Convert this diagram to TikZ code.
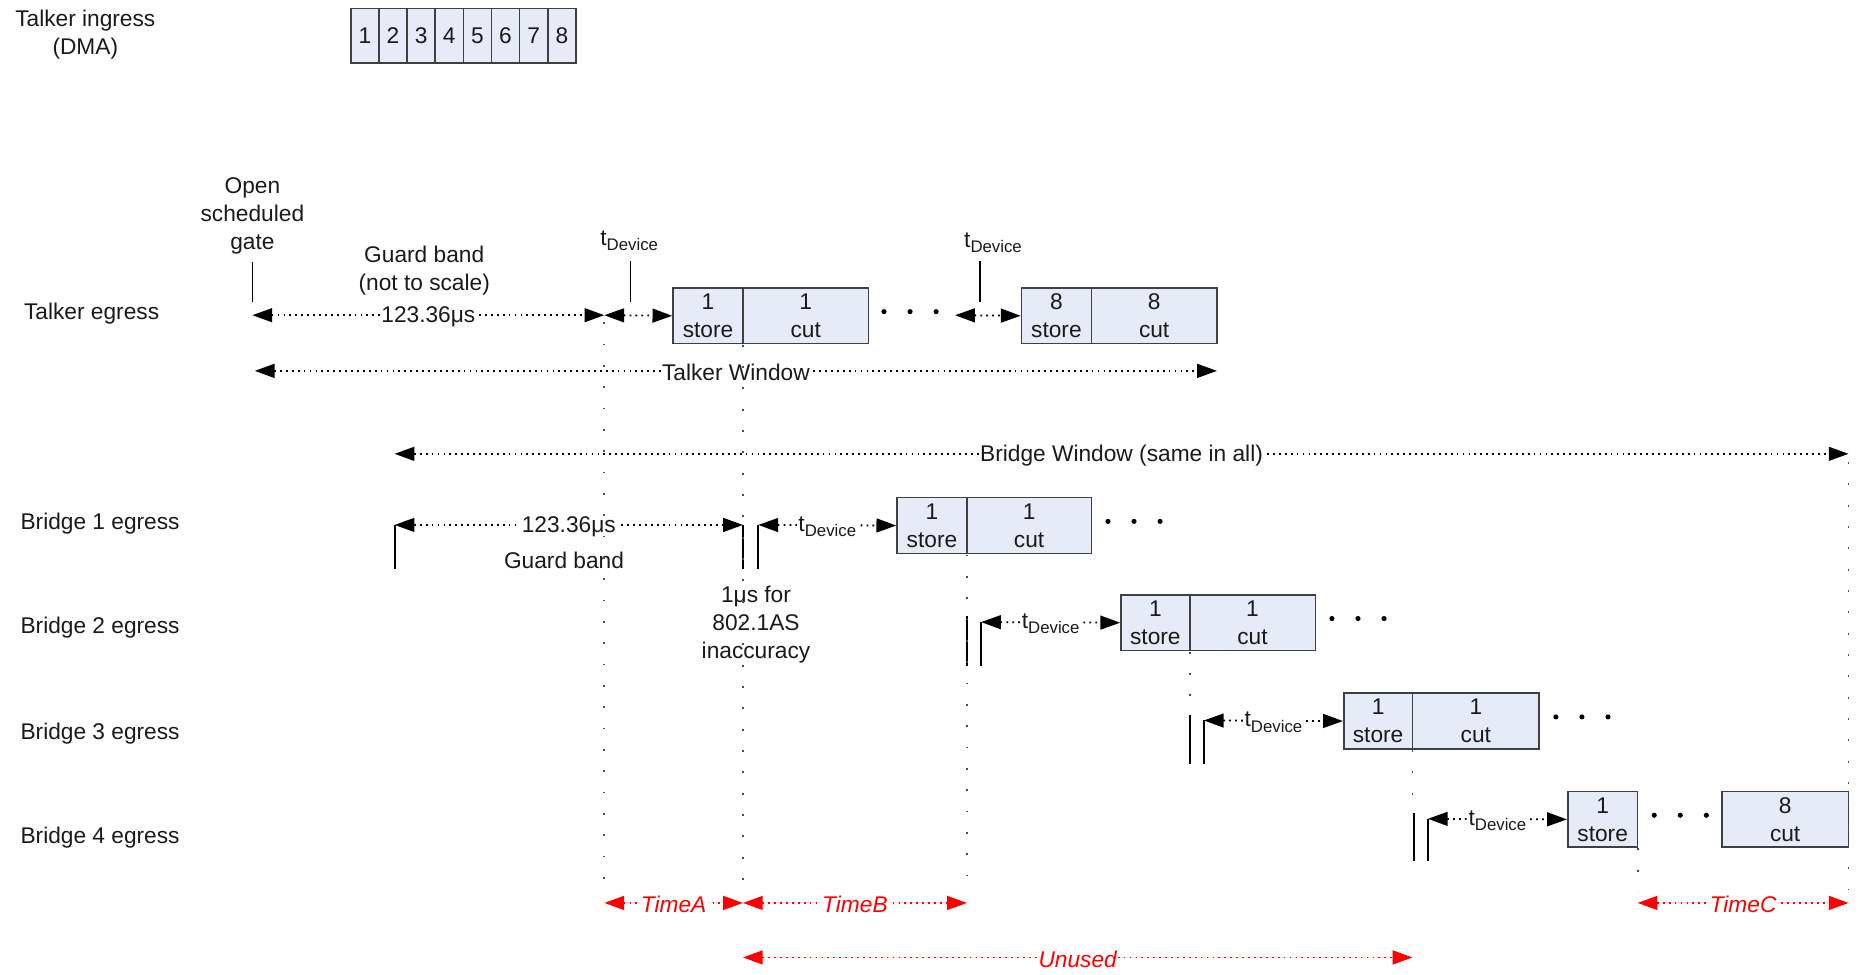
\documentclass[tikz,border=0pt]{standalone}
\usepackage{fontspec}
\setmainfont{Liberation Sans}
\usetikzlibrary{arrows.meta}
\definecolor{boxfill}{HTML}{E6ECF7}
\definecolor{boxline}{HTML}{404040}
\definecolor{tred}{HTML}{FF0000}
\definecolor{ink}{HTML}{1A1A1A}
\newcommand\fs{\fontsize{11.5}{14.2}\selectfont}
\newcommand\tdev{t\raisebox{-0.45ex}{\fontsize{8.5}{10}\selectfont Device}}
\begin{document}
\begin{tikzpicture}[x=0.6pt,y=-0.6pt,font=\fs,
  txt/.style={text=ink,yshift=-1.2pt},
  pkt/.style={draw=boxline,fill=boxfill,line width=0.8pt,inner sep=0pt,align=center,minimum height=28.2pt,text=ink},
  dim/.style={{Triangle[length=10pt,width=7pt]}-{Triangle[length=10pt,width=7pt]},line width=0.9pt,dash pattern=on 0.9pt off 2.1pt},
  reddim/.style={dim,draw=tred,fill=tred},
  lbl/.style={fill=white,inner sep=0.6pt,text=ink,yshift=-0.8pt},
  rlbl/.style={lbl,text=tred,font=\fs\itshape},
  tickline/.style={line width=0.8pt},
  gateline/.style={line width=1pt},
  vdot/.style={draw=black!70,line width=0.9pt,dash pattern=on 0.9pt off 9.9pt},
  dotmark/.style={circle,fill=black,inner sep=0pt,minimum size=2.6pt}
]
\useasboundingbox (0,0) rectangle (1568,822);

% ---------- texts ----------
\node[txt,align=center] (ingress) at (72,27) {Talker ingress\\(DMA)};
\node[txt,anchor=west,inner sep=0pt] (lt) at (20,263) {Talker egress};
\node[txt,anchor=west,inner sep=0pt] (lb1) at (17,440) {Bridge 1 egress};
\node[txt,anchor=west,inner sep=0pt] (lb2) at (17,528) {Bridge 2 egress};
\node[txt,anchor=west,inner sep=0pt] (lb3) at (17,617) {Bridge 3 egress};
\node[txt,anchor=west,inner sep=0pt] (lb4) at (17,705) {Bridge 4 egress};
\node[txt,align=center] (open) at (213,180) {Open\\scheduled\\gate};
\node[txt,align=center] (gb) at (358,226) {Guard band\\(not to scale)};
\node[txt] (td1) at (531,201) {\tdev};
\node[txt] (td2) at (838,203) {\tdev};
\node[txt] (gb1) at (476,471) {Guard band};
\node[txt,align=center] (acc) at (638,525) {1μs for\\802.1AS\\inaccuracy};

% ---------- ingress boxes ----------
\foreach \i in {1,...,8}
  \node[pkt,minimum width=14.25pt,minimum height=27.6pt] (in\i) at ({296+(\i-0.5)*23.75},30) {\i};

% ---------- talker egress ----------
\node[pkt,minimum width={59*0.6pt}] (ts1) at (597.5,266.5) {1\\store};
\node[pkt,minimum width={106*0.6pt}] (tc1) at (680,266.5) {1\\cut};
\node[pkt,minimum width={59*0.6pt}] (ts8) at (891.5,266.5) {8\\store};
\node[pkt,minimum width={106*0.6pt}] (tc8) at (974,266.5) {8\\cut};

\coordinate (gOpen) at (213,266);
\coordinate (gEnd) at (510,266);
\coordinate (tdA) at (806,266);
\draw[tickline] (213,221) -- (213,255);
\draw[tickline] (532,220) -- (532,255);
\draw[tickline] (827,220) -- (827,255);
\draw[dim] (gOpen) -- node[lbl] {123.36μs} (gEnd);
\draw[dim] (gEnd) -- (ts1.west);
\draw[dim] (tdA) -- (ts8.west);
\foreach \x in {746,768,790} \node[dotmark] at (\x,263) {};

% windows
\coordinate (twL) at (215,313);
\coordinate (twR) at (1027,313);
\draw[dim] (twL) -- node[lbl] {Talker Window} (twR);
\coordinate (bwL) at (333,383);
\coordinate (bwR) at (1560,383);
\draw[dim] (bwL) -- node[lbl] {Bridge Window (same in all)} (bwR);

% ---------- bridge 1 ----------
\node[pkt,minimum width={59*0.6pt}] (bs1) at (786.5,443.5) {1\\store};
\node[pkt,minimum width={105*0.6pt}] (bc1) at (868.5,443.5) {1\\cut};
\coordinate (b1g) at (333,443);
\coordinate (b1e) at (627,443);
\coordinate (b1d) at (640,443);
\draw[gateline] (333,480) -- (b1g);
\draw[gateline] (b1e) -- (627,480);
\draw[gateline] (640,480) -- (b1d);
\draw[dim] (b1g) -- node[lbl] {123.36μs} (b1e);
\draw[dim] (b1d) -- node[lbl] {\tdev} (bs1.west);
\foreach \x in {935,957,979} \node[dotmark] at (\x,440) {};

% ---------- bridge 2 ----------
\node[pkt,minimum width={58*0.6pt}] (bs2) at (975,525.5) {1\\store};
\node[pkt,minimum width={106*0.6pt}] (bc2) at (1057,525.5) {1\\cut};
\coordinate (b2d) at (828,525);
\draw[gateline] (816,520) -- (816,562);
\draw[gateline] (828,562) -- (b2d);
\draw[dim] (b2d) -- node[lbl] {\tdev} (bs2.west);
\foreach \x in {1124,1146,1168} \node[dotmark] at (\x,522) {};

% ---------- bridge 3 ----------
\node[pkt,minimum width={58*0.6pt}] (bs3) at (1163,608.5) {1\\store};
\node[pkt,minimum width={107*0.6pt}] (bc3) at (1245.5,608.5) {1\\cut};
\coordinate (b3d) at (1016,608);
\draw[gateline] (1004,603) -- (1004,645);
\draw[gateline] (1016,645) -- (b3d);
\draw[dim] (b3d) -- node[lbl] {\tdev} (bs3.west);
\foreach \x in {1313,1335,1357} \node[dotmark] at (\x,605) {};

% ---------- bridge 4 ----------
\node[pkt,minimum width={59*0.6pt}] (bs4) at (1352.5,691.5) {1\\store};
\node[pkt,minimum width={107*0.6pt}] (bc4) at (1506.5,691.5) {8\\cut};
\coordinate (b4d) at (1205,691);
\draw[gateline] (1193,686) -- (1193,727);
\draw[gateline] (1205,727) -- (b4d);
\draw[dim] (b4d) -- node[lbl] {\tdev} (bs4.west);
\foreach \x in {1396,1418,1440} \node[dotmark] at (\x,688) {};

% ---------- red time spans ----------
\coordinate (rA) at (510,762);
\coordinate (rB) at (627,762);
\coordinate (rC) at (816,762);
\coordinate (rD) at (1382,762);
\coordinate (rE) at (1560,762);
\coordinate (uA) at (627,808);
\coordinate (uB) at (1192,808);
\draw[reddim] (rA) -- node[rlbl] {TimeA} (rB);
\draw[reddim] (rB) -- node[rlbl] {TimeB} (rC);
\draw[reddim] (rD) -- node[rlbl] {TimeC} (rE);
\draw[reddim] (uA) -- node[rlbl] {Unused} (uB);

% ---------- vertical dotted guides ----------
\draw[vdot] (510,272) -- (510,752);
\draw[vdot] (627,291) -- (627,752);
\draw[vdot] (816,468) -- (816,752);
\draw[vdot] (1004,550) -- (1004,603);
\draw[vdot] (1192,633) -- (1192,686);
\draw[vdot] (1382,716) -- (1382,752);
\draw[vdot] (1560,390) -- (1560,752);
\end{tikzpicture}
\end{document}
